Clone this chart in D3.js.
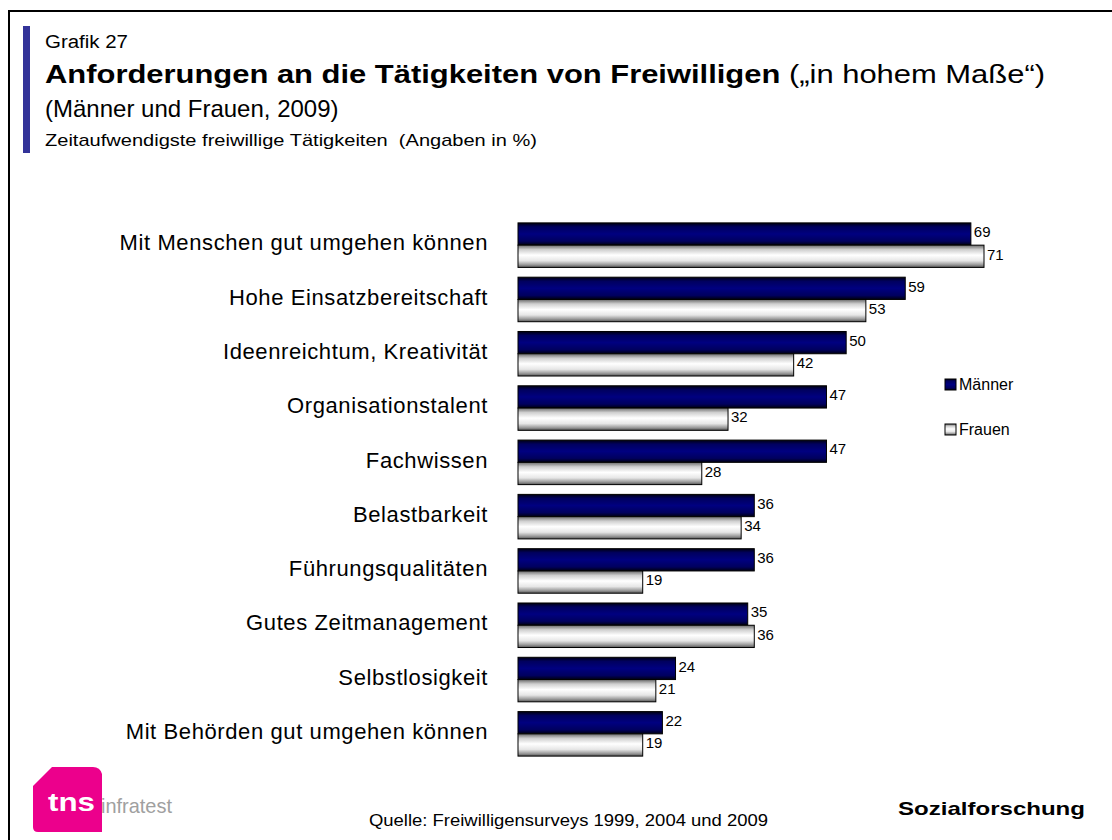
<!doctype html>
<html>
<head>
  <meta charset="utf-8">
  <title>Anforderungen an die Tätigkeiten von Freiwilligen</title>
  <script src="https://cdnjs.cloudflare.com/ajax/libs/d3/7.8.5/d3.min.js"></script>
  <style>
  body { margin: 0; background: #fff; }
  svg { display: block; font-family: "Liberation Sans", Arial, sans-serif; }
  .cat { font-size: 22px; fill: #000; text-anchor: end; letter-spacing: 0.6px; }
  .val { font-size: 15px; fill: #000; }
  .bar { stroke: #000; stroke-width: 1px; }
  </style>
</head>
<body>
  <script>
  var categories = [
    "Mit Menschen gut umgehen können",
    "Hohe Einsatzbereitschaft",
    "Ideenreichtum, Kreativität",
    "Organisationstalent",
    "Fachwissen",
    "Belastbarkeit",
    "Führungsqualitäten",
    "Gutes Zeitmanagement",
    "Selbstlosigkeit",
    "Mit Behörden gut umgehen können"
  ];
  var maenner = [69, 59, 50, 47, 47, 36, 36, 35, 24, 22];
  var frauen  = [71, 53, 42, 32, 28, 34, 19, 36, 21, 19];
  var seriesNames = ["Männer", "Frauen"];

  var width = 1112, height = 840;

  var svg = d3.select("body").append("svg")
      .attr("width", width)
      .attr("height", height);

  var defs = svg.append("defs");

  var gBlue = defs.append("linearGradient")
      .attr("id", "gradM").attr("x1", 0).attr("y1", 0).attr("x2", 0).attr("y2", 1);
  [[0, "#000010"], [0.18, "#00005e"], [0.5, "#000080"], [0.82, "#00005e"], [1, "#000010"]]
    .forEach(function(s) { gBlue.append("stop").attr("offset", s[0]).attr("stop-color", s[1]); });

  var gGrey = defs.append("linearGradient")
      .attr("id", "gradF").attr("x1", 0).attr("y1", 0).attr("x2", 0).attr("y2", 1);
  [[0, "#6a6a6a"], [0.2, "#cfcfcf"], [0.45, "#ffffff"], [0.7, "#e6e6e6"], [0.88, "#9a9a9a"], [1, "#555555"]]
    .forEach(function(s) { gGrey.append("stop").attr("offset", s[0]).attr("stop-color", s[1]); });

  // frame
  svg.append("rect")
    .attr("x", 9).attr("y", 11)
    .attr("width", width + 20).attr("height", height + 20)
    .attr("fill", "none").attr("stroke", "#000").attr("stroke-width", 2);

  // header
  svg.append("rect")
    .attr("x", 23).attr("y", 26).attr("width", 7).attr("height", 127)
    .attr("fill", "#333399");

  svg.append("text").attr("x", 45).attr("y", 48)
    .style("font-size", "18px")
    .attr("textLength", 83).attr("lengthAdjust", "spacingAndGlyphs")
    .text("Grafik 27");

  var title = svg.append("text").attr("x", 45).attr("y", 83).style("font-size", "25px")
    .attr("textLength", 1000).attr("lengthAdjust", "spacingAndGlyphs");
  title.append("tspan").style("font-weight", "bold").text("Anforderungen an die Tätigkeiten von Freiwilligen");
  title.append("tspan").text(" („in hohem Maße“)");

  svg.append("text").attr("x", 45).attr("y", 117)
    .style("font-size", "24px").text("(Männer und Frauen, 2009)");

  svg.append("text").attr("x", 45).attr("y", 146)
    .style("font-size", "17px").style("white-space", "pre")
    .attr("textLength", 492).attr("lengthAdjust", "spacingAndGlyphs")
    .text("Zeitaufwendigste freiwillige Tätigkeiten  (Angaben in %)");

  // scales
  var x = d3.scaleLinear()
      .domain([0, 71])
      .range([518, 984]);

  var y = d3.scaleBand()
      .domain(categories)
      .range([218, 761])
      .paddingInner(0.18)
      .paddingOuter(0.09);

  var sub = d3.scaleBand()
      .domain(seriesNames)
      .range([0, y.bandwidth()]);

  var rows = categories.map(function(c, i) {
    return {cat: c, values: [
      {s: "Männer", v: maenner[i], fill: "url(#gradM)"},
      {s: "Frauen", v: frauen[i], fill: "url(#gradF)"}
    ]};
  });

  var group = svg.selectAll(".row")
    .data(rows)
    .enter().append("g")
      .attr("class", "row")
      .attr("transform", function(d) { return "translate(0," + y(d.cat) + ")"; });

  group.append("text")
    .attr("class", "cat")
    .attr("x", 488)
    .attr("y", y.bandwidth() / 2 - 2.5)
    .attr("dy", "0.35em")
    .text(function(d) { return d.cat; });

  group.selectAll(".bar")
    .data(function(d) { return d.values; })
    .enter().append("rect")
      .attr("class", "bar")
      .attr("x", x(0))
      .attr("y", function(d) { return sub(d.s); })
      .attr("width", function(d) { return x(d.v) - x(0); })
      .attr("height", sub.bandwidth())
      .attr("fill", function(d) { return d.fill; });

  group.selectAll(".val")
    .data(function(d) { return d.values; })
    .enter().append("text")
      .attr("class", "val")
      .attr("x", function(d) { return x(d.v) + 3; })
      .attr("y", function(d) { return sub(d.s) + sub.bandwidth() / 2 - 2; })
      .attr("dy", "0.35em")
      .text(function(d) { return d.v; });

  // legend
  var legend = svg.selectAll(".legend")
    .data([{s: "Männer", fill: "url(#gradM)"}, {s: "Frauen", fill: "url(#gradF)"}])
    .enter().append("g")
      .attr("class", "legend")
      .attr("transform", function(d, i) { return "translate(945," + (379 + i * 45) + ")"; });

  legend.append("rect")
    .attr("width", 11).attr("height", 11)
    .attr("fill", function(d) { return d.fill; })
    .attr("stroke", "#000").attr("stroke-width", 1);

  legend.append("text")
    .attr("x", 14).attr("y", 11)
    .style("font-size", "16px")
    .text(function(d) { return d.s; });

  // footer
  svg.append("path")
    .attr("d", "M33,786 L52,767 L93,767 Q100,767 102,774 L102,832 L38,832 Q33,832 33,827 Z")
    .attr("fill", "#ec008c");
  svg.append("text").attr("x", 48).attr("y", 811)
    .style("font-size", "26px").style("font-weight", "bold").attr("fill", "#fff")
    .attr("textLength", 47).attr("lengthAdjust", "spacingAndGlyphs")
    .text("tns");
  svg.append("text").attr("x", 101).attr("y", 813)
    .style("font-size", "21px").attr("fill", "#a0a0a0")
    .attr("textLength", 71).attr("lengthAdjust", "spacingAndGlyphs")
    .text("infratest");

  svg.append("text").attr("x", 369).attr("y", 826)
    .style("font-size", "16px")
    .attr("textLength", 399).attr("lengthAdjust", "spacingAndGlyphs")
    .text("Quelle: Freiwilligensurveys 1999, 2004 und 2009");

  svg.append("text").attr("x", 898).attr("y", 815)
    .style("font-size", "19px").style("font-weight", "bold")
    .attr("textLength", 187).attr("lengthAdjust", "spacingAndGlyphs")
    .text("Sozialforschung");
  </script>
</body>
</html>
